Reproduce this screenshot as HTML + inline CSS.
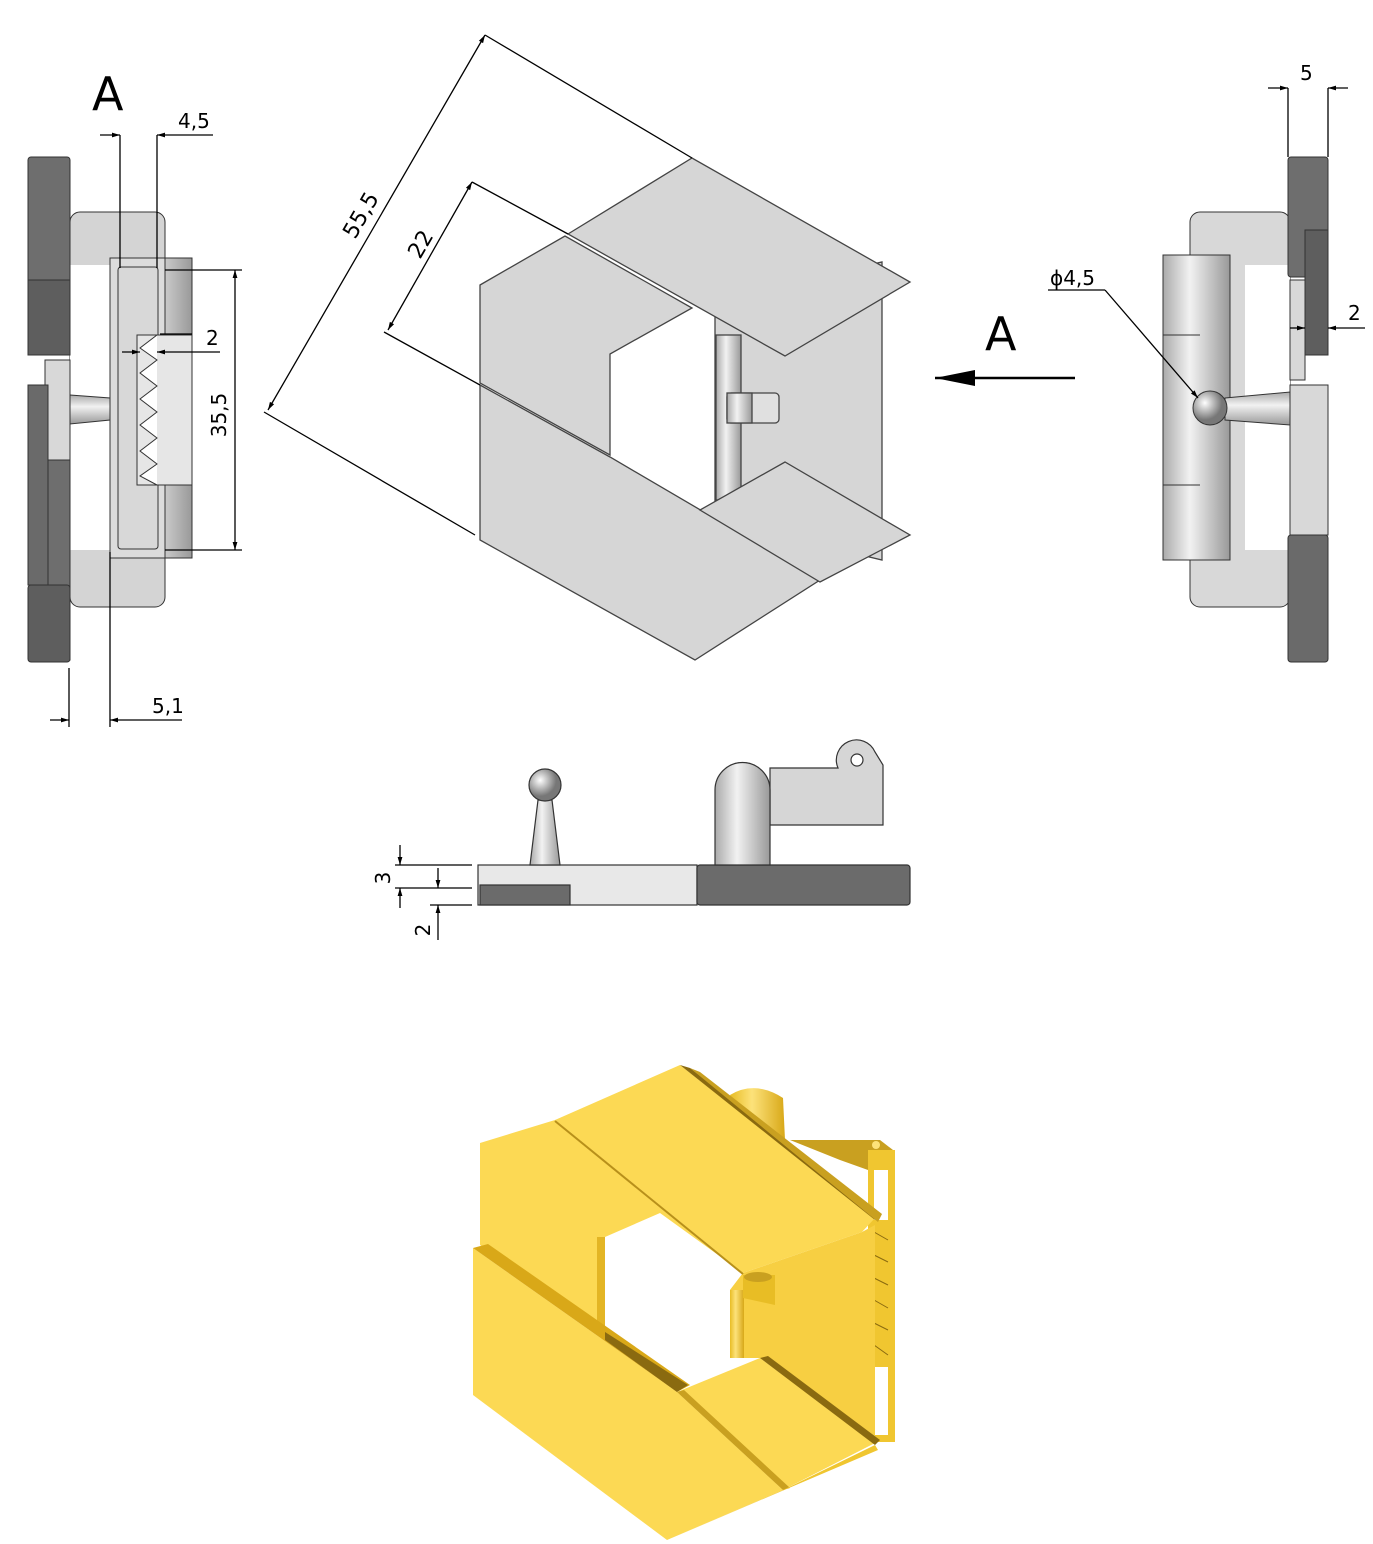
<!DOCTYPE html>
<html><head><meta charset="utf-8"><style>
html,body{margin:0;padding:0;background:#fff}
svg{display:block}
text{font-family:"DejaVu Sans","Liberation Sans",sans-serif;fill:#000}
</style></head><body>
<svg width="1373" height="1544" viewBox="0 0 1373 1544" xmlns="http://www.w3.org/2000/svg">
<defs>
<marker id="ar" viewBox="0 0 10 10" refX="10" refY="5" markerWidth="14" markerHeight="8" orient="auto-start-reverse" markerUnits="userSpaceOnUse"><path d="M0,2 L10,5 L0,8z" fill="#000"/></marker>
<linearGradient id="cyl" x1="0" x2="1"><stop offset="0" stop-color="#aaa"/><stop offset=".4" stop-color="#f2f2f2"/><stop offset="1" stop-color="#999"/></linearGradient>
<linearGradient id="cylv" x1="0" x2="0" y1="0" y2="1"><stop offset="0" stop-color="#aaa"/><stop offset=".4" stop-color="#f2f2f2"/><stop offset="1" stop-color="#999"/></linearGradient>
<radialGradient id="ball" cx=".35" cy=".35"><stop offset="0" stop-color="#fff"/><stop offset="1" stop-color="#777"/></radialGradient>
<linearGradient id="ycyl" x1="0" x2="1"><stop offset="0" stop-color="#e8bd25"/><stop offset=".4" stop-color="#fde27a"/><stop offset="1" stop-color="#d8a818"/></linearGradient>
</defs>

<!-- LEFT VIEW -->
<g stroke="#333" stroke-width="1">
<rect x="70" y="212" width="95" height="395" rx="10" fill="#d4d4d4"/>
<rect x="70" y="265" width="40" height="285" fill="#fff" stroke="none"/>
<rect x="28" y="157" width="42" height="198" rx="3" fill="#6e6e6e"/>
<rect x="28" y="280" width="42" height="75" fill="#5e5e5e"/>
<rect x="45" y="360" width="25" height="100" fill="#d8d8d8"/>
<rect x="28" y="385" width="20" height="200" fill="#6a6a6a"/>
<rect x="48" y="460" width="22" height="200" fill="#6e6e6e"/>
<rect x="28" y="585" width="42" height="77" rx="3" fill="#5e5e5e"/>
<path d="M70,395 L110,398 L110,420 L70,424z" fill="url(#cylv)"/>
<rect x="110" y="258" width="82" height="300" fill="url(#cyl)"/>
<rect x="110" y="258" width="55" height="300" fill="#dcdcdc"/>
<rect x="118" y="267" width="40" height="282" rx="3" fill="#d8d8d8"/>
<rect x="137" y="335" width="55" height="150" fill="#e6e6e6"/>
<path d="M157,335 L140,348 L157,360 L140,373 L157,386 L140,399 L157,412 L140,425 L157,438 L140,451 L157,464 L140,476 L157,485" fill="#fff"/>
</g>
<g stroke="#000" stroke-width="1.3" fill="none">
<line x1="120" y1="135" x2="120" y2="268"/><line x1="157" y1="135" x2="157" y2="268"/>
<line x1="100" y1="135" x2="120" y2="135" marker-end="url(#ar)"/><line x1="213" y1="135" x2="157" y2="135" marker-end="url(#ar)"/>
<line x1="165" y1="270" x2="242" y2="270"/><line x1="165" y1="550" x2="242" y2="550"/>
<line x1="235" y1="270" x2="235" y2="550" marker-start="url(#ar)" marker-end="url(#ar)"/>
<line x1="122" y1="352" x2="140" y2="352" marker-end="url(#ar)"/><line x1="220" y1="352" x2="157" y2="352" marker-end="url(#ar)"/>
<line x1="160" y1="334" x2="192" y2="334"/>
<line x1="69" y1="668" x2="69" y2="727"/><line x1="110" y1="552" x2="110" y2="727"/>
<line x1="50" y1="720" x2="69" y2="720" marker-end="url(#ar)"/><line x1="182" y1="720" x2="110" y2="720" marker-end="url(#ar)"/>
</g>
<text x="92" y="110" font-size="46">A</text>
<text x="178" y="128" font-size="20">4,5</text>
<text x="206" y="345" font-size="20">2</text>
<text x="226" y="415" font-size="20" transform="rotate(-90 226 415)" text-anchor="middle">35,5</text>
<text x="152" y="713" font-size="20">5,1</text>

<!-- TOP CENTER VIEW -->
<g stroke="#444" stroke-width="1.3" fill="#d6d6d6">
<polygon points="715,300 882,262 882,560 715,520"/>
<rect x="716" y="335" width="25" height="165" fill="url(#cyl)"/>
<rect x="727" y="393" width="52" height="30" rx="4" fill="#e0e0e0"/>
<rect x="727" y="393" width="25" height="30" fill="url(#cyl)"/>
<polygon points="480,285 565,236 692,308 610,354 610,455 480,383"/>
<polygon points="568,234 692,158 910,282 785,356"/>
<polygon points="480,385 610,457 820,580 695,660 480,540"/>
<polygon points="700,510 785,462 910,535 820,582"/>
</g>
<g stroke="#000" stroke-width="1.3" fill="none">
<line x1="268" y1="410" x2="485" y2="35" marker-start="url(#ar)" marker-end="url(#ar)"/>
<line x1="485" y1="35" x2="692" y2="158"/><line x1="264" y1="412" x2="475" y2="535"/>
<line x1="388" y1="330" x2="472" y2="182" marker-start="url(#ar)" marker-end="url(#ar)"/>
<line x1="472" y1="182" x2="568" y2="234"/><line x1="384" y1="332" x2="480" y2="385"/>
<line x1="1075" y1="378" x2="935" y2="378" stroke-width="2.5"/>
</g>
<path d="M935,378 L975,370 L975,386z" fill="#000"/>
<text x="355" y="240" font-size="22" transform="rotate(-60 355 240)">55,5</text>
<text x="420" y="260" font-size="22" transform="rotate(-60 420 260)">22</text>
<text x="985" y="350" font-size="46">A</text>

<!-- RIGHT VIEW -->
<g stroke="#333" stroke-width="1">
<rect x="1190" y="212" width="100" height="395" rx="10" fill="#d8d8d8"/>
<rect x="1245" y="265" width="45" height="285" fill="#fff" stroke="none"/>
<rect x="1163" y="255" width="67" height="305" fill="url(#cyl)"/>
<line x1="1163" y1="335" x2="1200" y2="335"/><line x1="1163" y1="485" x2="1200" y2="485"/>
<path d="M1225,398 L1290,392 L1290,425 L1225,420z" fill="url(#cylv)"/>
<circle cx="1210" cy="408" r="17" fill="url(#ball)"/>
<rect x="1288" y="157" width="40" height="120" rx="3" fill="#6e6e6e"/>
<rect x="1305" y="230" width="23" height="125" fill="#5e5e5e"/>
<rect x="1290" y="280" width="15" height="100" fill="#d8d8d8"/>
<rect x="1290" y="385" width="38" height="150" fill="#d8d8d8"/>
<rect x="1288" y="535" width="40" height="127" rx="3" fill="#6a6a6a"/>
</g>
<g stroke="#000" stroke-width="1.3" fill="none">
<line x1="1288" y1="88" x2="1288" y2="157"/><line x1="1328" y1="88" x2="1328" y2="157"/>
<line x1="1268" y1="88" x2="1288" y2="88" marker-end="url(#ar)"/><line x1="1348" y1="88" x2="1328" y2="88" marker-end="url(#ar)"/>
<line x1="1048" y1="290" x2="1105" y2="290"/><line x1="1105" y1="290" x2="1198" y2="398" marker-end="url(#ar)"/>
<line x1="1290" y1="328" x2="1305" y2="328" marker-end="url(#ar)"/><line x1="1365" y1="328" x2="1328" y2="328" marker-end="url(#ar)"/>
</g>
<text x="1300" y="80" font-size="20">5</text>
<text x="1050" y="285" font-size="20">ϕ4,5</text>
<text x="1348" y="320" font-size="20">2</text>

<!-- SIDE VIEW -->
<g stroke="#333" stroke-width="1.2">
<rect x="478" y="865" width="219" height="40" fill="#e8e8e8"/>
<rect x="697" y="865" width="213" height="40" rx="3" fill="#6b6b6b"/>
<rect x="480" y="885" width="90" height="20" fill="#6b6b6b"/>
<path d="M538,800 L552,800 L560,865 L530,865z" fill="url(#cyl)"/>
<circle cx="545" cy="785" r="16" fill="url(#ball)"/>
<path d="M770,768 L838,768 A20,20 0 0 1 875,752 L883,765 L883,825 L770,825z" fill="#d6d6d6"/>
<circle cx="857" cy="760" r="6" fill="#fff"/>
<path d="M715,865 L715,790 A27,27 0 0 1 770,790 L770,865z" fill="url(#cyl)"/>
</g>
<g stroke="#000" stroke-width="1.3" fill="none">
<line x1="395" y1="865" x2="472" y2="865"/><line x1="395" y1="888" x2="472" y2="888"/><line x1="430" y1="905" x2="472" y2="905"/>
<line x1="400" y1="845" x2="400" y2="865" marker-end="url(#ar)"/><line x1="400" y1="908" x2="400" y2="888" marker-end="url(#ar)"/>
<line x1="438" y1="868" x2="438" y2="888" marker-end="url(#ar)"/><line x1="438" y1="940" x2="438" y2="905" marker-end="url(#ar)"/>
</g>
<text x="390" y="878" font-size="20" transform="rotate(-90 390 878)" text-anchor="middle">3</text>
<text x="430" y="930" font-size="20" transform="rotate(-90 430 930)" text-anchor="middle">2</text>

<!-- YELLOW 3D -->
<g stroke="none">
<path d="M730,1095 Q755,1080 783,1098 L785,1140 L745,1130z" fill="url(#ycyl)"/>
<polygon points="790,1140 860,1140 880,1140 893,1150 893,1160 868,1170 840,1160" fill="#c9a020"/>
<circle cx="876" cy="1145" r="4" fill="#fde27a"/>
<rect x="868" y="1150" width="27" height="292" fill="#f0c630"/>
<rect x="874" y="1170" width="14" height="50" fill="#fff"/>
<rect x="874" y="1367" width="14" height="68" fill="#fff"/>
<g stroke="#8a6a10" stroke-width="1" fill="none">
<path d="M874,1232 L888,1240 M874,1255 L888,1262 M874,1278 L888,1285 M874,1300 L888,1308 M874,1323 L888,1330 M874,1345 L888,1355"/>
</g>
<polygon points="480,1143 555,1120 743,1273 743,1358 605,1340 480,1245" fill="#fcd954"/>
<polygon points="605,1237 660,1213 743,1273 730,1290 730,1358 687,1385 605,1332" fill="#fff"/>
<polygon points="597,1237 605,1237 605,1332 597,1330" fill="#e3b525"/>
<polygon points="743,1273 862,1232 875,1225 875,1440 760,1358 730,1358 730,1290" fill="#f7cf42"/>
<rect x="730" y="1290" width="14" height="68" fill="url(#ycyl)"/>
<path d="M743,1275 L775,1275 L775,1305 L743,1298z" fill="#e8bd25"/>
<ellipse cx="758" cy="1277" rx="14" ry="5" fill="#c9a020"/>
<polygon points="555,1120 680,1065 875,1218 862,1232 743,1273" fill="#fcd954"/>
<line x1="555" y1="1121" x2="743" y2="1274" stroke="#b8901a" stroke-width="2"/>
<polygon points="680,1065 690,1068 880,1215 875,1220" fill="#8a6a10"/>
<polygon points="690,1068 700,1072 882,1214 878,1222" fill="#c9a020"/>
<polygon points="473,1248 677,1392 783,1490 667,1540 473,1395" fill="#fcd954"/>
<polygon points="473,1248 488,1244 690,1385 677,1392" fill="#d9a818"/>
<polygon points="605,1332 688,1385 677,1392 605,1340" fill="#8a6a10"/>
<polygon points="677,1392 760,1358 875,1443 783,1490" fill="#fcd954"/>
<polygon points="760,1358 768,1356 880,1440 875,1445" fill="#8a6a10"/>
<polygon points="677,1392 783,1490 790,1488 684,1390" fill="#c9a020"/>
<polygon points="783,1490 875,1445 878,1450 667,1540" fill="#f0c630"/>
</g>
</svg>
</body></html>
